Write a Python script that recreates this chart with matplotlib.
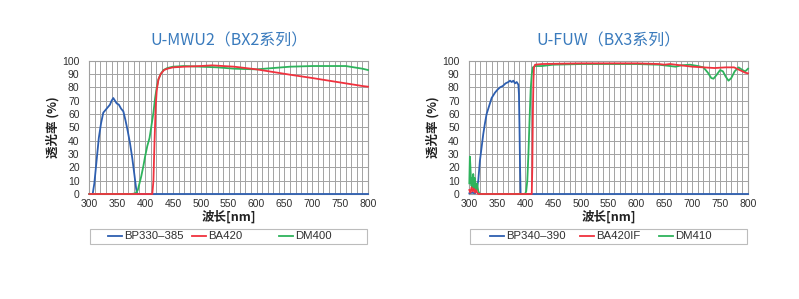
import matplotlib
matplotlib.use("Agg")
import matplotlib.pyplot as plt
from matplotlib.ticker import MultipleLocator
from matplotlib.lines import Line2D
from matplotlib.patches import Rectangle

# ---------------- data ----------------
titles = ["U-MWU2（BX2系列）", "U-FUW（BX3系列）"]
xlabel = "波长[nm]"
ylabel = "透光率 (%)"
xticks = [300, 350, 400, 450, 500, 550, 600, 650, 700, 750, 800]
yticks = [0, 10, 20, 30, 40, 50, 60, 70, 80, 90, 100]

# BX2
bx2_labels = ["BP330–385", "BA420", "DM400"]
bx2_ex_wl = [300, 306, 309, 313, 317, 321, 325, 329, 333, 337, 340, 343, 346, 349,
             353, 357, 361, 365, 369, 373, 377, 381, 384, 386, 800]
bx2_ex_t = [0, 0, 8, 25, 42, 53, 61, 63, 65, 67, 70, 72, 70, 68,
            67, 64, 62, 55, 47, 38, 27, 14, 4, 0, 0]
bx2_ba_wl = [300, 413, 415, 417, 419, 421, 424, 428, 434, 440, 450, 470, 500, 520,
             540, 560, 580, 600, 630, 660, 700, 730, 760, 790, 800]
bx2_ba_t = [0, 0, 10, 40, 65, 78, 86, 90, 93, 94, 95, 95.5, 96, 96.5,
            96, 95.5, 94.5, 93.5, 91.5, 89.5, 87, 85, 83, 81, 80.5]
bx2_dm_wl = [300, 376, 383, 387, 390, 393, 397, 400, 404, 408, 411, 415, 418, 421,
             424, 428, 433, 440, 450, 470, 500, 530, 560, 600, 630, 660, 700, 730,
             760, 775, 790, 800]
bx2_dm_t = [0, 0, 0.5, 3, 8, 13, 21, 28, 36, 42, 50, 61, 72, 80,
            86, 90, 93, 94.5, 95.5, 96, 95.5, 95, 94, 93.5, 94.5, 95.5, 96, 96,
            96, 95, 94, 93]

# BX3
bx3_labels = ["BP340–390", "BA420IF", "DM410"]
bx3_ex_wl = [300, 305, 310, 313, 316, 319, 322, 325, 328, 331, 334, 337, 340, 343,
             346, 350, 355, 360, 365, 370, 373, 376, 379, 382, 385, 388, 389, 390,
             391, 392, 800]
bx3_ex_t = [0.5, 1, 0.5, 3, 10, 25, 35, 45, 53, 60, 64, 68, 72, 74,
            76, 78, 80, 81, 83, 84, 85, 84, 85, 83, 84, 82, 75, 50,
            20, 0, 0]
bx3_ba_wl = [300, 302, 304, 306, 308, 310, 312, 314, 316, 412, 413, 414, 415, 416,
             418, 430, 500, 550, 600, 640, 650, 660, 680, 700, 720, 740, 760, 775,
             785, 795, 800]
bx3_ba_t = [3, 1, 5, 2, 4, 1, 3, 1, 0, 0, 20, 60, 85, 95,
            97, 97.5, 98, 98, 98, 97.5, 97, 97.5, 96.5, 95.5, 95, 94.5, 95, 95,
            93, 91, 90.5]
bx3_dm_wl = [300, 301, 302, 303, 304, 305, 306, 307, 308, 309, 310, 311, 312, 314,
             316, 318, 320, 400, 402, 404, 406, 408, 410, 412, 414, 418, 430, 450,
             500, 550, 600, 640, 660, 670, 680, 696, 710, 720, 728, 734, 738, 743,
             750, 755, 760, 765, 770, 776, 783, 790, 795, 800]
bx3_dm_t = [8, 28, 20, 10, 6, 12, 5, 15, 8, 4, 12, 6, 3, 8,
            2, 0.5, 0, 0, 2, 10, 30, 55, 78, 90, 95, 96, 96, 97,
            97.5, 97.5, 97.5, 97, 96, 95.5, 96.5, 97, 96, 95, 91, 87, 86.5, 89,
            93, 92, 88, 85, 87, 92, 95, 93, 92, 94]

# ---------------- style ----------------
c_blue = "#2e5fb0"
c_red = "#f0323e"
c_green = "#2eb35c"
title_color = "#3a7bbd"
grid_color = "#a3a3a3"
text_color = "#303030"
cjk = ["Noto Sans CJK SC", "DejaVu Sans"]
tickfont = ["Liberation Sans", "DejaVu Sans"]

fig = plt.figure(figsize=(7.99, 2.99), dpi=100)
AX_W_PX = 278.7
AX_H_PX = 133.3
axes_pos = [[0.1118, 0.3512, 0.3488, 0.4458], [0.5874, 0.3512, 0.3488, 0.4458]]
# legend handle starts (pixels from axes left) for each chart
leg_starts = [[18.4, 102.4, 190.0], [20.7, 110.7, 190.0]]

datasets = [
    (bx2_labels, (bx2_ex_wl, bx2_ex_t), (bx2_ba_wl, bx2_ba_t), (bx2_dm_wl, bx2_dm_t)),
    (bx3_labels, (bx3_ex_wl, bx3_ex_t), (bx3_ba_wl, bx3_ba_t), (bx3_dm_wl, bx3_dm_t)),
]

for i, (labels, ex, ba, dm) in enumerate(datasets):
    ax = fig.add_axes(axes_pos[i])
    ax.set_xlim(300, 800)
    ax.set_ylim(0, 100)
    ax.xaxis.set_minor_locator(MultipleLocator(10))
    ax.set_xticks(xticks)
    ax.set_yticks(yticks)
    ax.grid(True, which="both", axis="x", color=grid_color, lw=0.7)
    ax.grid(True, which="major", axis="y", color=grid_color, lw=0.7)
    ax.set_axisbelow(True)
    for s in ax.spines.values():
        s.set_color("#a0a0a0")
        s.set_linewidth(0.8)
    ax.tick_params(which="both", length=0, labelsize=7.5, colors=text_color)
    ax.tick_params(axis="x", pad=3.5)
    ax.tick_params(axis="y", pad=7)
    for lab in ax.get_xticklabels() + ax.get_yticklabels():
        lab.set_family(tickfont)

    colors = [c_blue, c_red, c_green]
    l1, = ax.plot(ex[0], ex[1], color=c_blue, lw=1.3, clip_on=False, zorder=3)
    l3, = ax.plot(dm[0], dm[1], color=c_green, lw=1.3, clip_on=False, zorder=3)
    l2, = ax.plot(ba[0], ba[1], color=c_red, lw=1.3, clip_on=False, zorder=3)

    ax.set_title(titles[i], family=cjk, fontsize=11.5, color=title_color, pad=11)
    ax.set_xlabel(xlabel, family=cjk, fontsize=9, fontweight="bold",
                  color="#222222", labelpad=1)
    ax.set_ylabel(ylabel, family=cjk, fontsize=9, fontweight="bold",
                  color="#222222")
    ax.yaxis.set_label_coords(-29.5 / AX_W_PX, 0.5)

    # legend (manual, Excel-like)
    y_top = -35.0 / AX_H_PX
    y_bot = -50.0 / AX_H_PX
    y_mid = (y_top + y_bot) / 2
    frame = Rectangle((0.7 / AX_W_PX, y_bot), (276.5) / AX_W_PX, y_top - y_bot,
                      transform=ax.transAxes, fill=False, edgecolor="#bcbcbc",
                      lw=0.8, clip_on=False)
    ax.add_patch(frame)
    for k in range(3):
        x0 = leg_starts[i][k] / AX_W_PX
        x1 = (leg_starts[i][k] + 14.0) / AX_W_PX
        ax.add_line(Line2D([x0, x1], [y_mid, y_mid], transform=ax.transAxes,
                           color=colors[k], lw=1.3, clip_on=False))
        ax.text((leg_starts[i][k] + 16.0) / AX_W_PX, y_mid, labels[k],
                transform=ax.transAxes, ha="left", va="center",
                fontsize=8.2, family=tickfont, color=text_color)

fig.savefig("out.png", dpi=100)
